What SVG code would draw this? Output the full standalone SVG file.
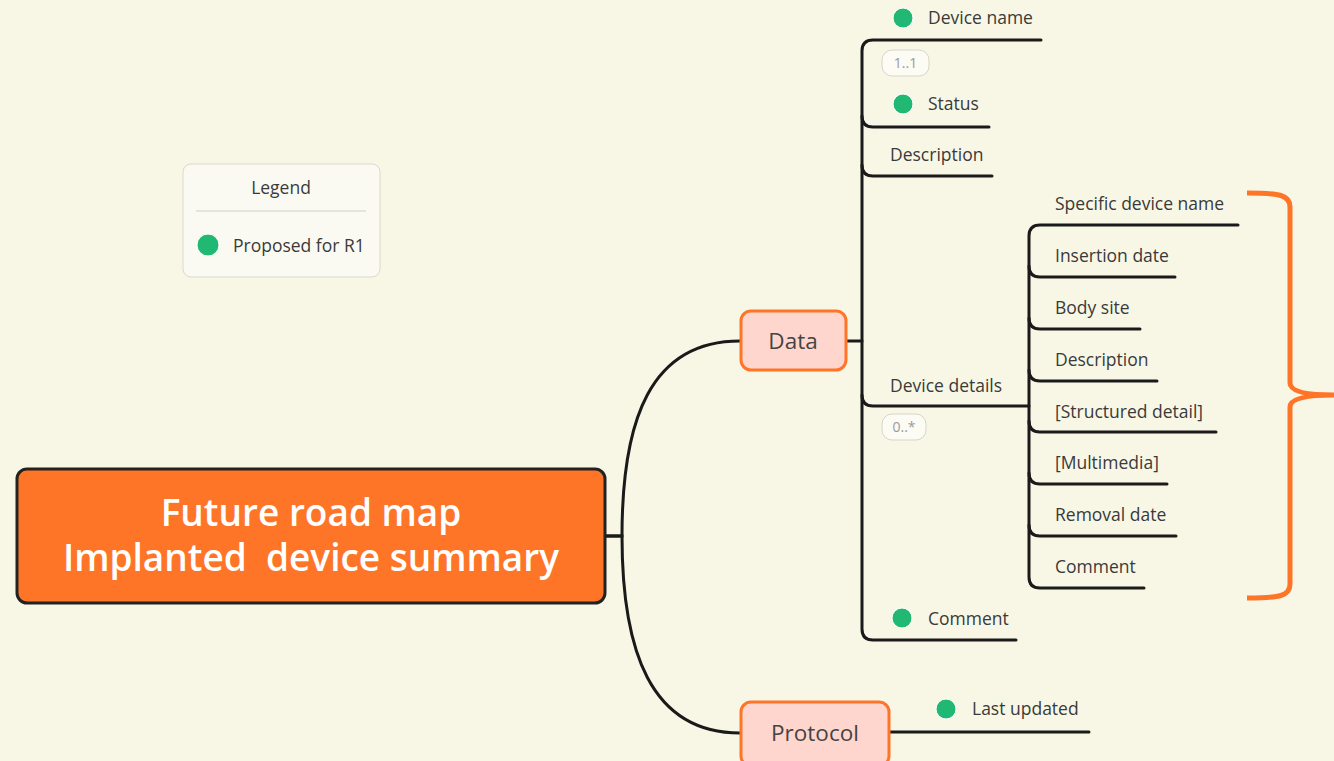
<svg xmlns="http://www.w3.org/2000/svg" width="1334" height="761" viewBox="0 0 1334 761">
<style>
text{font-family:"Open Sans","Liberation Sans",sans-serif;fill:#3a3a3a}
.t{font-size:17.5px}
.br{fill:none;stroke:#1a1a1a;stroke-width:3;stroke-linecap:round}
.dot{fill:#21b874;stroke:#fff;stroke-width:1}
.badge{fill:#fcfbf4;stroke:#d6d6cc;stroke-width:1}
.bt{font-size:14px;fill:#9a9a9a;text-anchor:middle}
.sub{fill:#ffd6cd;stroke:#ff7527;stroke-width:3}
.subt{font-size:22.5px;text-anchor:middle;fill:#444}
.title{font-size:37px;font-weight:600;text-anchor:middle;fill:#fff;white-space:pre}
</style>
<rect width="1334" height="761" fill="#f8f7e6"/>
<g id="connectors">
<path class="br" d="M605,536 H622 C622,420 650,341 740,341"/>
<path class="br" d="M605,536 H622 C622,650 650,733 740,733"/>
<path class="br" d="M846,341 H862"/>
<path class="br" d="M1041,40 H873 Q862,40 862,51 V629 Q862,640 873,640 H1016"/>
<path class="br" d="M862,116 Q862,127 873,127 H989"/>
<path class="br" d="M862,165 Q862,176 873,176 H992"/>
<path class="br" d="M862,395 Q862,406 873,406 H1029"/>
<path class="br" d="M1238,225 H1040 Q1029,225 1029,236 V577 Q1029,588 1040,588 H1144"/>
<path class="br" d="M1029,266 Q1029,277 1040,277 H1175"/>
<path class="br" d="M1029,318 Q1029,329 1040,329 H1140"/>
<path class="br" d="M1029,370 Q1029,381 1040,381 H1157"/>
<path class="br" d="M1029,421 Q1029,432 1040,432 H1216"/>
<path class="br" d="M1029,473 Q1029,484 1040,484 H1167"/>
<path class="br" d="M1029,525 Q1029,536 1040,536 H1176"/>
<path class="br" d="M889,732 H1089"/>
</g>
<g id="root">
<rect x="17" y="469" width="588" height="134" rx="10" fill="#ff7527" stroke="#222" stroke-width="3"/>
<text class="title" xml:space="preserve"><tspan x="311" y="526">Future road map</tspan><tspan x="311" y="571">Implanted  device summary</tspan></text>
</g>
<g id="legend">
<rect x="183" y="164" width="197" height="113" rx="8" fill="#fbfaf2" stroke="#d8d8ce" stroke-width="1"/>
<text x="281" y="194" class="t" text-anchor="middle">Legend</text>
<line x1="196" y1="211" x2="366" y2="211" stroke="#cfcfc6" stroke-width="1"/>
<circle cx="208" cy="245" r="11" class="dot"/>
<text x="233" y="252" class="t">Proposed for R1</text>
</g>
<g id="data">
<rect x="741" y="311" width="105" height="59" rx="10" class="sub"/>
<text x="793" y="349" class="subt">Data</text>
</g>
<g id="protocol">
<rect x="741" y="702" width="148" height="64" rx="10" class="sub"/>
<text x="815" y="741" class="subt">Protocol</text>
</g>
<g id="device-name">
<circle cx="903" cy="18" r="10" class="dot"/>
<text x="928" y="24" class="t">Device name</text>
<rect x="882" y="50" width="47" height="26" rx="10" class="badge"/>
<text x="905.5" y="68" class="bt">1..1</text>
</g>
<g id="status">
<circle cx="903" cy="104" r="10" class="dot"/>
<text x="928" y="110" class="t">Status</text>
</g>
<g id="description">
<text x="890" y="161" class="t">Description</text>
</g>
<g id="device-details">
<text x="890" y="392" class="t">Device details</text>
<rect x="882" y="414" width="44" height="26" rx="10" class="badge"/>
<text x="904" y="432" class="bt">0..*</text>
</g>
<g id="comment">
<circle cx="902" cy="618" r="10" class="dot"/>
<text x="928" y="625" class="t">Comment</text>
</g>
<g id="dd-children">
<text x="1055" y="210" class="t">Specific device name</text>
<text x="1055" y="262" class="t">Insertion date</text>
<text x="1055" y="314" class="t">Body site</text>
<text x="1055" y="366" class="t">Description</text>
<text x="1055" y="418" class="t">[Structured detail]</text>
<text x="1055" y="469" class="t">[Multimedia]</text>
<text x="1055" y="521" class="t">Removal date</text>
<text x="1055" y="573" class="t">Comment</text>
</g>
<g id="last-updated">
<circle cx="946" cy="709" r="10" class="dot"/>
<text x="972" y="715" class="t">Last updated</text>
</g>
<g id="bracket">
<path d="M1247,193 C1280,193 1290,195 1290,207 V383 Q1290,395 1334,395 Q1290,395 1290,407 V584 C1290,596 1280,598 1247,598" fill="none" stroke="#ff7527" stroke-width="5"/>
</g>
</svg>
